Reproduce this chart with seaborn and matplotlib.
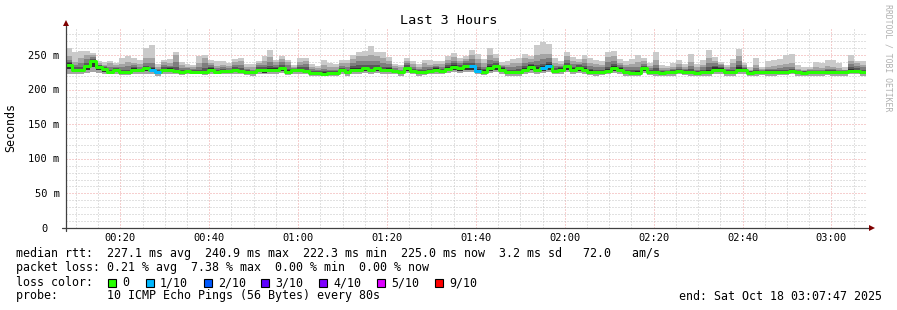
import numpy as np
import matplotlib
matplotlib.use("Agg")
import matplotlib.pyplot as plt
import matplotlib.ticker as mticker
from matplotlib.transforms import offset_copy
from matplotlib.patches import Rectangle
import seaborn as sns

W, H = 897, 310

# ---------------- data ----------------
start_min = 7 + 47 / 60.0      # 00:07:47
step_min = 80 / 60.0           # 80 s probe step
span_min = 180                 # 3 hours

median = [236, 228.5, 228, 233.5, 240.9, 233, 230, 226, 229, 225, 225, 229, 228, 231, 229, 225, 228, 229, 227, 225, 227, 226, 226, 225.5, 229, 226, 227,
          227, 228.5, 227, 226, 224.8, 228, 227.6, 229, 229, 231, 226, 228, 228, 227, 224.3, 224.3, 222.3, 224.3, 224.3, 228, 225, 229, 229, 231, 228, 231, 228,
          229, 227, 225, 231, 227, 225, 226, 227, 229, 227, 230, 233, 231, 234, 234, 227, 226, 231, 234, 229, 225, 225, 225, 229, 233, 229, 231,
          234.8, 227, 229, 233.8, 229, 231, 229, 226, 225, 226, 227, 231, 229, 225, 224.3, 224.3, 231, 226, 225, 224.3, 225, 225, 227, 226, 225, 224.3, 225,
          225, 229, 229, 225, 225, 229, 228, 224.3, 225, 226, 225, 225, 226, 226, 227, 225, 224.3, 225, 225, 225, 226, 225, 225, 225, 227, 227, 225]

ping_max = [260, 255, 256, 256, 253, 242, 240, 241, 239, 246, 248, 245, 243, 260, 264, 237, 243, 244, 255, 240, 237, 236, 248, 250, 243, 241, 241,
            239, 244, 245, 237, 237, 242, 248, 257, 243, 248, 243, 236, 246, 245, 237, 234, 243, 239, 237, 243, 243, 250, 255, 256, 263, 255, 255,
            247, 237, 236, 245, 242, 237, 243, 243, 241, 241, 248, 253, 246, 248, 257, 251, 244, 259.5, 251, 240, 242, 244, 246, 251, 248, 264, 269,
            266, 245, 241, 255, 247, 244, 250, 245, 243, 242, 254, 256, 244, 241, 244, 250, 246, 238, 255, 236, 234, 238, 243, 237, 251, 237, 243,
            257, 247, 240, 236, 244, 258, 239, 232, 246, 233, 241, 243, 244, 250, 252, 235, 232, 233, 240, 238, 243, 243, 238, 232, 250, 242, 242]

ping_p9 = [248, 240, 246, 250, 250, 238, 236, 238, 236, 237, 240, 238, 237, 245, 245, 232, 240, 238, 250, 235, 233, 233, 238, 245, 238, 234, 236,
           234, 240, 242, 233, 232, 238, 241, 247, 240, 244, 240, 233, 240, 242, 233, 231, 235, 233, 232, 238, 238, 244, 248, 248, 250, 248, 245,
           242, 234, 232, 242, 237, 233, 238, 236, 237, 237, 243, 247, 242, 244, 250, 244, 238, 250, 246, 236, 236, 238, 239, 245, 244, 250, 252,
           252, 239, 237, 248, 242, 240, 244, 239, 237, 236, 247, 248, 239, 236, 237, 240, 241, 234, 243, 231, 231, 233, 237, 233, 240, 232, 236,
           245, 242, 237, 232, 238, 248, 236, 229, 236, 230, 233, 234, 235, 237, 238, 230, 229, 230, 232, 231, 234, 233, 231, 229, 242, 238, 236]

ping_p8 = [243, 236, 238, 244, 247, 236, 234, 233, 233, 232, 234, 235, 233, 238, 238, 230, 236, 234, 240, 231, 231, 230, 233, 238, 235, 231, 233,
           231, 236, 236, 230, 229, 235, 236, 240, 236, 240, 235, 231, 236, 237, 230, 228, 230, 229, 229, 234, 233, 239, 241, 242, 242, 242, 239,
           237, 231, 229, 238, 233, 230, 233, 233, 234, 233, 239, 242, 238, 241, 244, 238, 233, 243, 242, 234, 232, 233, 234, 239, 240, 242, 244,
           245, 234, 234, 243, 237, 237, 238, 234, 232, 232, 240, 242, 236, 232, 232, 233, 237, 231, 236, 229, 229, 230, 233, 230, 234, 229, 232,
           238, 238, 235, 230, 233, 241, 233, 227.5, 231, 228.5, 230, 230, 231, 232, 233, 228.5, 227.5, 228, 229, 229, 230, 230, 229, 228, 237, 234, 232]

ping_p7 = [240, 232, 233, 238, 244, 235, 232, 229, 231, 228, 229, 232, 230, 234, 233, 228, 232, 232, 233, 228, 229, 228, 229, 231, 232, 229, 230,
           229, 232, 231, 228, 227, 232, 232, 234, 233, 236, 230, 230, 232, 232, 227, 226.5, 227, 227, 227, 231, 229, 234, 235, 236, 235, 236, 233,
           233, 229, 227, 235, 230, 228, 229, 230, 232, 230, 235, 238, 235, 238, 239, 233, 230, 237, 238, 232, 229, 229, 230, 234, 237, 236, 237,
           240, 231, 232, 239, 233, 235, 234, 230, 229, 229, 233, 237, 233, 229, 228, 229, 234, 229, 231, 227, 227.5, 228, 230, 228, 230, 227, 229,
           232, 234, 233, 228, 229, 235, 231, 226.5, 228, 227.5, 228, 228, 229, 229, 230, 227, 226.5, 227, 227.5, 227.5, 228, 228, 227.5, 227, 233, 231, 229]

ping_p6 = [238, 230, 230, 236, 243, 234.5, 231, 227.5, 230, 226.5, 227, 230.5, 229.5, 232.5, 231, 227, 230, 230.5, 229, 226.5, 228.5, 227.5, 227.5, 227, 230.5, 227.5, 228.5,
           228.5, 230, 229, 227.5, 226, 229.5, 229, 231, 231, 233, 228, 229.5, 230, 229, 226, 225.8, 225.5, 226, 226, 229.5, 226.5, 231, 231, 233, 230, 233, 230,
           231, 228.5, 226.5, 233, 228.5, 226.5, 227.5, 228.5, 230.5, 228.5, 232, 235, 233, 236, 236, 229.5, 228, 233.5, 236, 230.5, 227, 227, 227, 231, 235, 232, 233.5,
           237, 229, 230.5, 236, 231, 233, 231, 228, 227, 227.5, 229.5, 233.5, 231, 227, 226, 226.5, 232.5, 227.5, 227.5, 226, 226.5, 226.5, 228.5, 227.5, 227, 226, 226.5,
           228, 232, 231, 227, 227, 232, 229.5, 225.8, 226.5, 227, 226.5, 226.5, 227.5, 227.5, 228.5, 226.5, 225.8, 226.5, 226.5, 226.5, 227.5, 226.5, 226.5, 226.5, 230, 229, 227]

ping_p4 = [230, 225, 225, 229, 232, 228, 226, 224, 226, 223, 223, 226, 225, 227, 226, 222, 225, 226, 224, 223, 224, 224, 224, 223, 226, 224, 224,
           224, 225, 224, 223, 222, 225, 224, 226, 226, 227, 223, 225, 225, 224, 222, 222, 220.5, 222, 222, 225, 222, 226, 226, 227, 225, 227, 225,
           226, 224, 222, 227, 224, 222, 223, 224, 226, 224, 227, 229, 227, 229, 229, 224, 223, 227, 229, 226, 222, 222, 222, 226, 228, 226, 227,
           229, 224, 226, 229, 226, 227, 226, 223, 222, 223, 224, 227, 226, 222, 222, 222, 227, 223, 222, 222, 222, 222, 224, 223, 222, 222, 222,
           222, 226, 226, 222, 222, 226, 225, 222, 222, 223, 222, 222, 223, 223, 224, 222, 222, 222, 222, 222, 223, 222, 222, 222, 224, 224, 222]

ping_min = [223, 222, 222, 224, 225, 224, 223, 222, 223, 221, 221, 223, 222, 223, 222, 220, 222, 223, 222, 221, 222, 222, 222, 221, 223, 222, 222,
            222, 222, 222, 221, 220, 222, 222, 223, 223, 224, 221, 222, 222, 222, 220, 220, 219, 220, 220, 222, 220, 223, 223, 224, 222, 224, 222,
            223, 222, 220, 224, 222, 220, 221, 222, 223, 222, 224, 225, 224, 225, 225, 222, 221, 224, 225, 223, 220, 220, 220, 223, 224, 223, 224,
            225, 222, 223, 225, 223, 224, 223, 221, 220, 221, 222, 224, 223, 220, 220, 220, 224, 221, 220, 220, 220, 220, 222, 221, 220, 220, 220,
            220, 223, 223, 220, 220, 223, 222, 220, 220, 221, 220, 220, 221, 221, 222, 220, 220, 220, 220, 220, 221, 220, 220, 220, 222, 222, 220]

loss_tenths = [0, 0, 0, 0, 0, 0, 0, 0, 0, 0, 0, 0, 0, 0, 1, 1, 0, 0, 0, 0, 0, 0, 0, 0, 0, 0, 0,
               0, 0, 0, 0, 0, 0, 0, 0, 0, 0, 0, 0, 0, 0, 0, 0, 0, 0, 0, 0, 0, 0, 0, 0, 0, 0, 0,
               0, 0, 0, 0, 0, 0, 0, 0, 0, 0, 0, 0, 0, 0, 1, 1, 0, 0, 0, 0, 0, 0, 0, 0, 0, 0, 1,
               1, 0, 0, 0, 0, 0, 0, 0, 0, 0, 0, 0, 0, 0, 0, 0, 0, 0, 0, 0, 0, 0, 0, 0, 0, 0, 0,
               0, 0, 0, 0, 0, 0, 0, 0, 0, 0, 0, 0, 0, 0, 0, 0, 0, 0, 0, 0, 0, 0, 0, 0, 0, 0, 0]

loss_labels = ["0", "1/10", "2/10", "3/10", "4/10", "5/10", "9/10"]
loss_values = [0, 1, 2, 3, 4, 5, 9]
loss_colors = ["#26ff00", "#00b8ff", "#0059ff", "#5e00ff", "#7e00ff", "#dd00ff", "#ff0000"]
smoke_colors = ["#cacaca", "#a4a4a4", "#7e7e7e", "#585858", "#323232"]

y_ticks = [0, 50, 100, 150, 200, 250]
y_tick_labels = ["0", "50 m", "100 m", "150 m", "200 m", "250 m"]
x_ticks = [20, 40, 60, 80, 100, 120, 140, 160, 180]
x_tick_labels = ["00:20", "00:40", "01:00", "01:20", "01:40", "02:00", "02:20", "02:40", "03:00"]

title = "Last 3 Hours"
legend_rows = [
    "median rtt:  227.1 ms avg  240.9 ms max  222.3 ms min  225.0 ms now  3.2 ms sd   72.0   am/s",
    "packet loss: 0.21 % avg  7.38 % max  0.00 % min  0.00 % now",
]
probe_text = "probe:       10 ICMP Echo Pings (56 Bytes) every 80s"
end_text = "end: Sat Oct 18 03:07:47 2025"

# ---------------- style ----------------
sns.set_theme(style="white")
plt.rcParams["font.family"] = ["DejaVu Sans Mono", "DejaVu Sans"]
plt.rcParams["text.color"] = "black"

fig = plt.figure(figsize=(W / 100, H / 100), dpi=100)
fig.patch.set_facecolor("white")
ax = fig.add_axes([66 / W, (H - 228) / H, 800 / W, 200 / H])
ax.set_facecolor("white")

n = len(median)
x_edges = start_min + step_min * np.arange(n + 1)


def ext(a):
    a = np.asarray(a, dtype=float)
    return np.append(a, a[-1])


bands = [(ping_min, ping_max), (ping_min, ping_p9), (ping_p4, ping_p8),
         (ping_p4, ping_p7), (ping_p4, ping_p6)]
for (lo, hi), c in zip(bands, smoke_colors):
    ax.fill_between(x_edges, ext(lo), ext(hi), step="post", color=c,
                    linewidth=0, antialiased=False, zorder=2)

sns.lineplot(x=x_edges, y=ext(median), drawstyle="steps-post", color=loss_colors[0],
             linewidth=2.16, ax=ax, zorder=3, legend=False, sort=False)

loss_arr = np.asarray(loss_tenths)
med_arr = np.asarray(median, dtype=float)
for lv, c in zip(loss_values[1:], loss_colors[1:]):
    m = loss_arr == lv
    if not m.any():
        continue
    y = np.where(m, med_arr, np.nan)
    ax.step(x_edges, ext(y), where="post", color=c, linewidth=2.16,
            solid_capstyle="butt", zorder=4)

ax.set_xlim(start_min, start_min + span_min)
ax.set_ylim(0, 289)

ax.xaxis.set_major_locator(mticker.FixedLocator(x_ticks))
ax.xaxis.set_minor_locator(mticker.MultipleLocator(5))
ax.yaxis.set_major_locator(mticker.FixedLocator(y_ticks))
ax.yaxis.set_minor_locator(mticker.MultipleLocator(10))
ax.grid(which="minor", color="#c4c4c4", linestyle=(0, (1, 2)), linewidth=0.72)
ax.grid(which="major", color="#eea0a0", linestyle=(0, (1, 2)), linewidth=0.72)
ax.set_axisbelow(True)
for s in ax.spines.values():
    s.set_visible(False)
ax.tick_params(which="both", labelleft=False, labelbottom=False, direction="out",
               color="#404040", width=0.72)
ax.tick_params(which="major", length=2.9)
ax.tick_params(which="minor", length=1.5)
ax.set_xlabel("")
ax.set_ylabel("")

axis_col = "#404040"
ax.plot([-4 / 800, 803 / 800], [0, 0], transform=ax.transAxes, color=axis_col,
        lw=0.9, clip_on=False, zorder=6)
ax.plot([0, 0], [-3 / 200, 1.02], transform=ax.transAxes, color=axis_col,
        lw=0.9, clip_on=False, zorder=6)
ax.plot([0], [1.026], marker="^", ms=4.2, mew=0, color="#7f0000",
        transform=ax.transAxes, clip_on=False, zorder=7)
ax.plot([1.0069], [0], marker=">", ms=4.2, mew=0, color="#7f0000",
        transform=ax.transAxes, clip_on=False, zorder=7)

# tick labels
xt = offset_copy(ax.get_xaxis_transform(), fig=fig, y=-13, units="dots")
for t, lab in zip(x_ticks, x_tick_labels):
    ax.text(t, 0, lab, transform=xt, ha="center", va="baseline", fontsize=7.5)
for v, lab in zip(y_ticks, y_tick_labels):
    dx = -18.7 if lab == "0" else -6.3
    yt = offset_copy(ax.get_yaxis_transform(), fig=fig, x=dx, y=-3.7, units="dots")
    ax.text(0, v, lab, transform=yt, ha="right", va="baseline", fontsize=7.5)


def P(x, y):
    return x / W, 1 - y / H


fs = 8.35
fig.text(*P(448.5, 24), title, ha="center", va="baseline", fontsize=9.7)
fig.text(*P(11, 127), "Seconds", rotation=90, ha="center", va="center", fontsize=fs)
fig.text(*P(887.5, 4), "RRDTOOL / TOBI OETIKER", rotation=270, ha="center", va="top",
         fontsize=5.9, color="#b0b0b0")

fig.text(*P(15.5, 257.5), legend_rows[0], ha="left", va="baseline", fontsize=fs)
fig.text(*P(15.5, 271.5), legend_rows[1], ha="left", va="baseline", fontsize=fs)
fig.text(*P(15.5, 286), "loss color:", ha="left", va="baseline", fontsize=fs)
box_x = [108.3, 145.7, 203.5, 261.3, 319.1, 376.9, 434.7]
for bx, lab, c in zip(box_x, loss_labels, loss_colors):
    fig.add_artist(Rectangle(P(bx, 287), 8 / W, 8 / H, transform=fig.transFigure,
                             facecolor=c, edgecolor="black", linewidth=0.8))
    fig.text(*P(bx + 14.3, 286), lab, ha="left", va="baseline", fontsize=fs)
fig.text(*P(15.5, 299.5), probe_text, ha="left", va="baseline", fontsize=fs)
fig.text(*P(881.5, 299.5), end_text, ha="right", va="baseline", fontsize=fs)

fig.savefig("out.png", dpi=100, facecolor="white")
